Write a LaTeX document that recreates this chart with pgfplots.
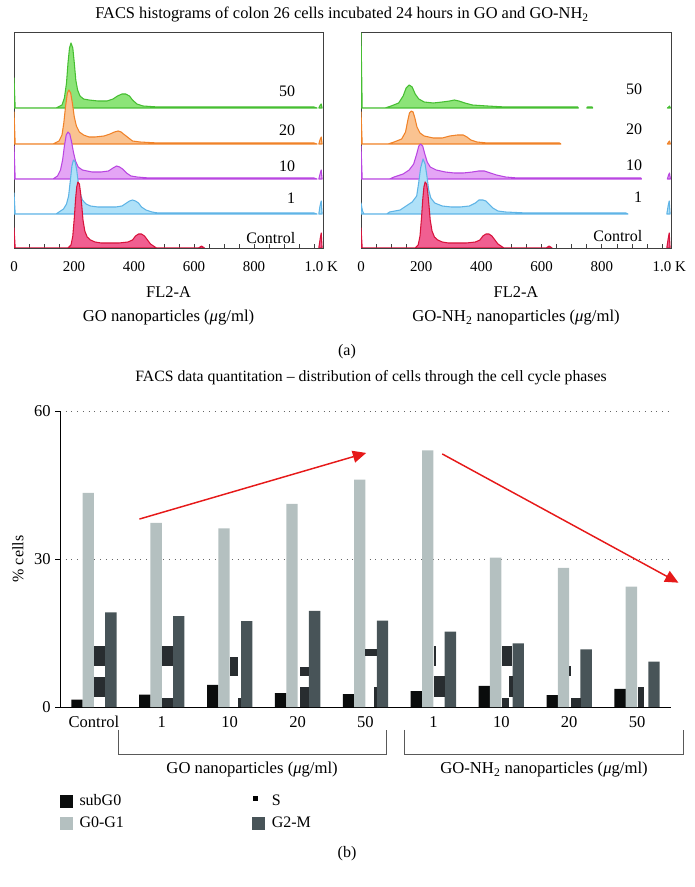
\documentclass[border=0pt]{standalone}
\usepackage{fontspec}
\setmainfont{Liberation Serif}
\usepackage{pgfplots}
\pgfplotsset{compat=1.18}
\usetikzlibrary{arrows.meta}

\definecolor{gL}{RGB}{70,190,50}   \definecolor{gF}{RGB}{140,228,120}
\definecolor{oL}{RGB}{240,130,40}  \definecolor{oF}{RGB}{250,195,145}
\definecolor{pL}{RGB}{185,70,225}  \definecolor{pF}{RGB}{228,165,245}
\definecolor{bL}{RGB}{95,180,230}  \definecolor{bF}{RGB}{175,225,248}
\definecolor{rL}{RGB}{215,20,60}   \definecolor{rF}{RGB}{240,95,145}
\definecolor{cSub}{RGB}{10,12,12}
\definecolor{cGa}{RGB}{180,192,192}
\definecolor{cS}{RGB}{40,45,48}
\definecolor{cGb}{RGB}{72,84,88}
\definecolor{arr}{RGB}{230,25,25}

\pgfplotsset{
  histo/.style={
    anchor=south west, scale only axis, height=162pt,
    xmin=0, xmax=1030, ymin=0, ymax=216,
    axis line style={draw=black!75, line width=0.6pt},
    xtick={0,200,400,600,800,1024},
    xticklabels={0,200,400,600,800,1.0 K},
    minor xtick={50,100,...,1000},
    ytick=\empty, tick align=inside, xtick pos=bottom,
    major tick length=3pt, minor tick length=3pt,
    tick style={black!75, line width=0.5pt},
    /pgf/number format/assume math mode=true,
    tick label style={font=\fontsize{11.2}{13}\selectfont},
    xticklabel style={yshift=-6.5pt},
  },
  hline/.style={line width=0.8pt, line join=round},
}

\begin{document}
\begin{tikzpicture}[font=\fontsize{12}{14.4}\selectfont]
\useasboundingbox (0,0) rectangle (520.5pt,-665.25pt);

% ---------------- titles / captions
\node[font=\fontsize{12.3}{14.4}\selectfont] at (256.5pt,-11.25pt) {FACS histograms of colon 26 cells incubated 24 hours in GO and GO-NH\textsubscript{2}};
\node[font=\fontsize{12.3}{14.4}\selectfont] at (126.4pt,-219pt) {FL2-A};
\node[font=\fontsize{12.3}{14.4}\selectfont] at (387pt,-219pt) {FL2-A};
\node[font=\fontsize{12.5}{14.4}\selectfont] at (126.4pt,-238.5pt) {GO nanoparticles (\textit{μ}g/ml)};
\node[font=\fontsize{12.5}{14.4}\selectfont] at (387pt,-238.5pt) {GO-NH\textsubscript{2} nanoparticles (\textit{μ}g/ml)};
\node at (260.25pt,-264pt) {(a)};
\node at (260.25pt,-640.5pt) {(b)};

% ---------------- left histogram
\begin{axis}[histo, at={(10.5pt,-186pt)}, width=231.75pt]
% 50 (green, base 140)
\addplot[hline, draw=gL, fill=gF] coordinates {(0,140)(0,170)(4,140)(140,140)(160,143)(168,150)(175,165)(180,185)(185,200)(190,205)(196,200)(201,185)(206,168)(212,158)(220,152)(232,149)(250,148)(280,147)(310,147)(330,149)(345,152)(360,154)(372,154)(385,152)(395,148)(410,144)(430,142)(480,141)(700,141)(1000,141)(1010,140)} -- cycle;
\addplot[hline, draw=gL, fill=gF] coordinates {(1016,140)(1021,143)(1024,144)(1027,140)} -- cycle;
% 20 (orange, base 104)
\addplot[hline, draw=oL, fill=oF] coordinates {(0,104)(0,136)(4,104)(130,104)(150,107)(160,113)(166,125)(172,142)(178,155)(183,158)(189,155)(195,144)(201,131)(208,122)(218,116)(232,113)(250,111)(270,111)(300,112)(320,114)(335,116)(347,117)(357,116)(365,114)(378,111)(395,107)(420,106)(480,105)(700,105)(1000,105)(1010,104)} -- cycle;
\addplot[hline, draw=oL, fill=oF] coordinates {(1016,104)(1021,109)(1024,111)(1027,104)} -- cycle;
% 10 (purple, base 69)
\addplot[hline, draw=pL, fill=pF] coordinates {(0,69)(0,102)(4,69)(130,69)(145,72)(155,78)(162,88)(168,102)(174,113)(180,116)(186,114)(192,106)(198,96)(205,87)(214,81)(228,78)(260,76)(290,76)(315,77)(330,80)(342,82)(352,81)(362,79)(375,75)(390,72)(410,71)(450,70)(600,70)(800,70)(1000,70)(1010,69)} -- cycle;
\addplot[hline, draw=pL, fill=pF] coordinates {(1016,69)(1021,75)(1024,78)(1027,69)} -- cycle;
% 1 (blue, base 34)
\addplot[hline, draw=bL, fill=bF] coordinates {(0,34)(0,55)(4,34)(140,34)(150,36)(165,39)(175,44)(182,52)(188,68)(193,82)(198,88)(204,86)(209,78)(214,66)(220,55)(228,48)(240,44)(255,42)(280,41)(310,41)(340,41)(360,42)(375,45)(385,47)(395,48)(405,47)(415,45)(425,41)(440,38)(460,36)(480,35)(550,35)(700,35)(900,35)(1000,35)(1010,34)} -- cycle;
\addplot[hline, draw=bL, fill=bF] coordinates {(1016,34)(1020,42)(1024,47)(1027,34)} -- cycle;
% Control (red, base 0)
\addplot[hline, draw=rL, fill=rF] coordinates {(0,0)(0,20)(4,0)(180,0)(190,3)(196,12)(201,30)(205,48)(209,61)(213,66)(218,64)(222,55)(226,42)(230,28)(236,17)(244,11)(255,8)(270,6)(290,5)(320,5)(350,5)(380,6)(395,8)(405,12)(415,14)(425,14)(435,12)(445,8)(455,4)(465,2)(475,0)(615,0)(625,2)(635,0)} -- cycle;
\addplot[hline, draw=rL, fill=rF] coordinates {(1016,0)(1021,10)(1024,15)(1027,0)} -- cycle;
\node[anchor=east] at (axis cs:953,157) {50};
\node[anchor=east] at (axis cs:953,118) {20};
\node[anchor=east] at (axis cs:953,82) {10};
\node[anchor=east] at (axis cs:953,50) {1};
\node[anchor=east] at (axis cs:953,10) {Control};
\end{axis}

% ---------------- right histogram
\begin{axis}[histo, at={(270.75pt,-186pt)}, width=232.5pt]
% 50 (green)
\addplot[hline, draw=gL, fill=gF] coordinates {(0,140)(0,215)(4,140)(80,140)(100,142)(125,145)(140,152)(150,160)(160,163)(170,161)(180,154)(192,149)(210,146)(240,145)(270,146)(295,147)(310,148)(325,147)(345,145)(370,143)(420,142)(480,141)(720,141)(722,140)} -- cycle;
\addplot[hline, draw=gL, fill=gF] coordinates {(750,140)(752,141)(768,141)(770,140)} -- cycle;
\addplot[hline, draw=gL, fill=gF] coordinates {(1018,140)(1022,141)(1025,142)(1028,140)} -- cycle;
% 20 (orange)
\addplot[hline, draw=oL, fill=oF] coordinates {(0,104)(0,136)(4,104)(90,104)(110,106)(135,109)(148,116)(155,127)(161,135)(167,137)(173,136)(179,130)(186,121)(196,115)(210,112)(240,110)(270,110)(295,112)(320,113)(340,113)(352,111)(365,108)(385,106)(420,105)(660,105)(664,104)} -- cycle;
\addplot[hline, draw=oL, fill=oF] coordinates {(1018,104)(1022,106)(1025,107)(1028,104)} -- cycle;
% 10 (purple)
\addplot[hline, draw=pL, fill=pF] coordinates {(0,69)(0,102)(4,69)(95,69)(110,71)(140,74)(160,78)(175,84)(185,94)(192,102)(198,104)(205,102)(212,94)(220,86)(230,81)(250,78)(280,76)(310,75)(340,75)(370,76)(391,77)(410,77)(430,75)(450,73)(480,71)(520,70)(700,70)(930,70)(932,69)} -- cycle;
\addplot[hline, draw=pL, fill=pF] coordinates {(1018,69)(1022,73)(1025,75)(1028,69)} -- cycle;
% 1 (blue)
\addplot[hline, draw=bL, fill=bF] coordinates {(0,34)(0,45)(5,37)(10,34)(85,34)(95,36)(130,38)(150,42)(170,46)(185,52)(192,66)(198,80)(206,89)(213,84)(219,72)(225,58)(232,50)(245,45)(270,42)(300,41)(330,41)(360,42)(380,45)(392,48)(405,48)(415,47)(425,44)(438,40)(455,37)(480,36)(550,35)(700,35)(880,35)(887,34)} -- cycle;
\addplot[hline, draw=bL, fill=bF] coordinates {(1016,34)(1021,43)(1024,47)(1027,34)} -- cycle;
% Control (red)
\addplot[hline, draw=rL, fill=rF] coordinates {(0,0)(0,20)(4,0)(180,0)(190,3)(196,12)(201,30)(205,48)(209,61)(213,66)(218,64)(222,55)(226,42)(230,28)(236,17)(244,11)(255,8)(270,6)(290,5)(320,5)(350,5)(380,6)(395,8)(405,12)(415,14)(425,14)(435,12)(445,8)(455,4)(465,2)(475,0)(615,0)(625,2)(635,0)} -- cycle;
\addplot[hline, draw=rL, fill=rF] coordinates {(1016,0)(1021,10)(1024,15)(1027,0)} -- cycle;
\node[anchor=east] at (axis cs:950,159) {50};
\node[anchor=east] at (axis cs:950,119) {20};
\node[anchor=east] at (axis cs:950,83) {10};
\node[anchor=east] at (axis cs:950,51) {1};
\node[anchor=east] at (axis cs:950,12) {Control};
\end{axis}

% ---------------- bar chart
\begin{axis}[
  at={(45pt,-530.25pt)}, anchor=south west, scale only axis,
  width=458.25pt, height=222pt,
  xmin=-0.5, xmax=8.5, ymin=0, ymax=60,
  axis x line*=bottom, axis y line*=left,
  axis line style={-, black, line width=0.7pt},
  xtick={0,...,8}, xticklabels={Control,1,10,20,50,1,10,20,50},
  ytick={0,30,60},
  /pgf/number format/assume math mode=true,
  tick label style={font=\fontsize{12.4}{14.4}\selectfont},
  x tick style={draw=none},
  y tick style={black, line width=0.6pt},
  tick align=outside, major tick length=3.5pt,
  ymajorgrids, grid style={black!60, line width=0.7pt, dash pattern=on 0.7pt off 3.6pt},
  ylabel={\% cells},
  every axis y label/.style={at={(axis description cs:-0.069,0.5)}, rotate=90, anchor=center},
  title={FACS data quantitation – distribution of cells through the cell cycle phases},
  title style={at={(axis description cs:0.509,1.084)}, anchor=center, font=\fontsize{11.8}{14}\selectfont},
  clip=false,
  legend columns=2,
  legend cell align=left,
  legend style={draw=none, fill=none, at={(axis description cs:-0.001,-0.285)}, anchor=north west,
    inner sep=0pt, row sep=3pt,
    /tikz/every odd column/.append style={column sep=3.5pt},
    /tikz/every even column/.append style={column sep=94pt}},
]
\addplot[ybar, bar width=0.167, bar shift=-0.25, fill=cSub, draw=none, forget plot]
  coordinates {(0,1.5)(1,2.5)(2,4.5)(3,2.8)(4,2.6)(5,3.2)(6,4.3)(7,2.4)(8,3.7)};
\addplot[ybar, bar width=0.167, bar shift=-0.0835, fill=cGa, draw=none, forget plot]
  coordinates {(0,43.4)(1,37.3)(2,36.2)(3,41.2)(4,46.1)(5,52.0)(6,30.3)(7,28.2)(8,24.4)};
\addplot[ybar, bar width=0.167, bar shift=0.25, fill=cGb, draw=none, forget plot]
  coordinates {(0,19.2)(1,18.4)(2,17.4)(3,19.5)(4,17.5)(5,15.3)(6,12.9)(7,11.7)(8,9.2)};
% S phase (floating segments)
\addplot[fill=cS, draw=none, forget plot] coordinates {(0.007,8.4)(0.165,8.4)(0.165,12.3)(0.007,12.3)} -- cycle;
\addplot[fill=cS, draw=none, forget plot] coordinates {(0.007,2.0)(0.165,2.0)(0.165,6.1)(0.007,6.1)} -- cycle;
\addplot[fill=cS, draw=none, forget plot] coordinates {(1.007,8.4)(1.165,8.4)(1.165,12.4)(1.007,12.4)} -- cycle;
\addplot[fill=cS, draw=none, forget plot] coordinates {(1.007,0)(1.165,0)(1.165,1.9)(1.007,1.9)} -- cycle;
\addplot[fill=cS, draw=none, forget plot] coordinates {(2.01,6.2)(2.12,6.2)(2.12,10.1)(2.01,10.1)} -- cycle;
\addplot[fill=cS, draw=none, forget plot] coordinates {(2.124,0)(2.166,0)(2.166,1.9)(2.124,1.9)} -- cycle;
\addplot[fill=cS, draw=none, forget plot] coordinates {(3.04,6.2)(3.165,6.2)(3.165,8.2)(3.04,8.2)} -- cycle;
\addplot[fill=cS, draw=none, forget plot] coordinates {(3.03,0)(3.165,0)(3.165,4.1)(3.03,4.1)} -- cycle;
\addplot[fill=cS, draw=none, forget plot] coordinates {(4.0,10.4)(4.167,10.4)(4.167,11.8)(4.0,11.8)} -- cycle;
\addplot[fill=cS, draw=none, forget plot] coordinates {(4.12,0)(4.167,0)(4.167,4.1)(4.12,4.1)} -- cycle;
\addplot[fill=cS, draw=none, forget plot] coordinates {(5.005,8.4)(5.035,8.4)(5.035,12.4)(5.005,12.4)} -- cycle;
\addplot[fill=cS, draw=none, forget plot] coordinates {(5.01,2.0)(5.165,2.0)(5.165,6.2)(5.01,6.2)} -- cycle;
\addplot[fill=cS, draw=none, forget plot] coordinates {(6.006,8.4)(6.165,8.4)(6.165,12.4)(6.006,12.4)} -- cycle;
\addplot[fill=cS, draw=none, forget plot] coordinates {(6.12,2.0)(6.167,2.0)(6.167,6.2)(6.12,6.2)} -- cycle;
\addplot[fill=cS, draw=none, forget plot] coordinates {(6.006,0)(6.11,0)(6.11,1.9)(6.006,1.9)} -- cycle;
\addplot[fill=cS, draw=none, forget plot] coordinates {(7.0,6.2)(7.03,6.2)(7.03,8.4)(7.0,8.4)} -- cycle;
\addplot[fill=cS, draw=none, forget plot] coordinates {(7.03,0)(7.167,0)(7.167,1.9)(7.03,1.9)} -- cycle;
\addplot[fill=cS, draw=none, forget plot] coordinates {(8.01,0)(8.10,0)(8.10,4.1)(8.01,4.1)} -- cycle;
% trend arrows
\addplot[arr, line width=1.1pt, -{Triangle[length=10pt,width=9pt]}, forget plot] coordinates {(0.67,38.1)(4.01,51.5)};
\addplot[arr, line width=1.1pt, -{Triangle[length=10pt,width=9pt]}, forget plot] coordinates {(5.13,51.3)(8.61,25.2)};
% brackets
\draw[black!65, line width=0.7pt] (axis cs:0.36,-4.66) -- (axis cs:0.36,-9.53) -- (axis cs:4.31,-9.53) -- (axis cs:4.31,-4.66);
\draw[black!65, line width=0.7pt] (axis cs:4.57,-4.66) -- (axis cs:4.57,-9.53) -- (axis cs:8.68,-9.53) -- (axis cs:8.68,-4.66);
\node[font=\fontsize{12.5}{14.4}\selectfont] at (axis cs:2.33,-12.77) {GO nanoparticles (\textit{μ}g/ml)};
\node[font=\fontsize{12.5}{14.4}\selectfont] at (axis cs:6.63,-12.77) {GO-NH\textsubscript{2} nanoparticles (\textit{μ}g/ml)};
% legend
\addlegendimage{legend image code/.code={\fill[cSub] (0pt,-4.5pt) rectangle (9pt,4.5pt);}}
\addlegendentry{subG0}
\addlegendimage{legend image code/.code={\path[draw=none,fill=none] (0pt,-4.5pt) rectangle (9pt,4.5pt); \fill[black] (0.5pt,0.3pt) rectangle (3.8pt,3.6pt);}}
\addlegendentry{S}
\addlegendimage{legend image code/.code={\fill[cGa] (0pt,-4.5pt) rectangle (9pt,4.5pt);}}
\addlegendentry{G0-G1}
\addlegendimage{legend image code/.code={\fill[cGb] (0pt,-4.5pt) rectangle (9pt,4.5pt);}}
\addlegendentry{G2-M}
\end{axis}
\end{tikzpicture}
\end{document}
